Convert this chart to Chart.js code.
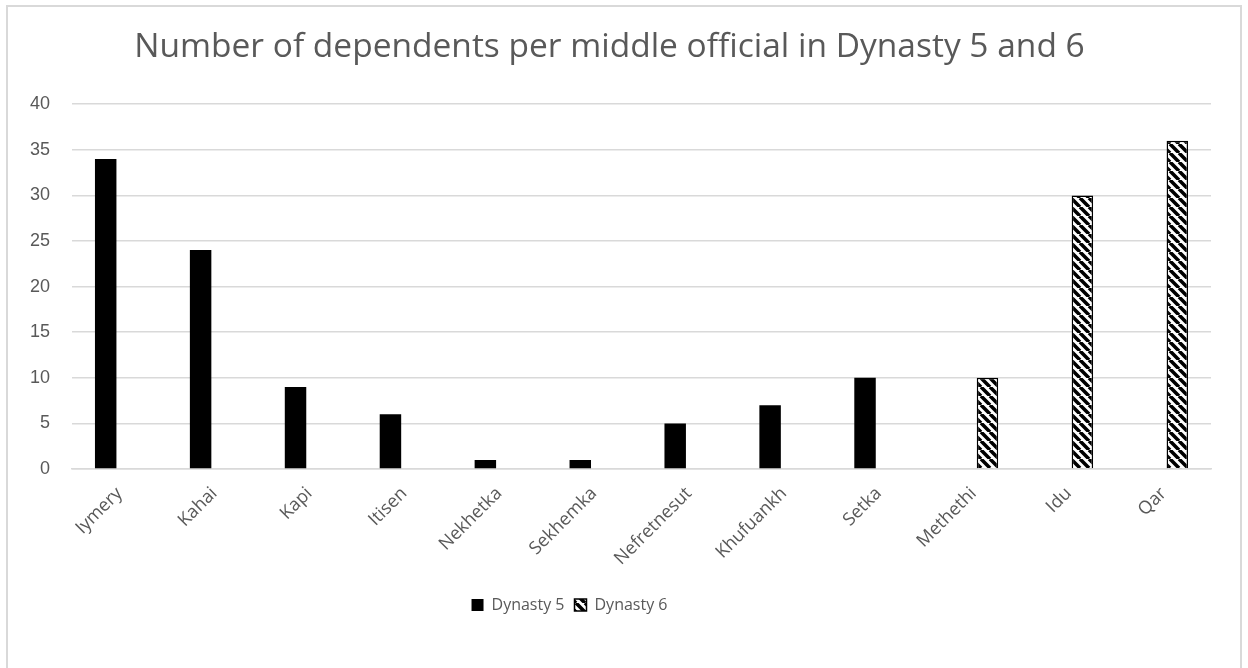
<!DOCTYPE html>
<html>
<head>
<meta charset="utf-8">
<script src="https://cdn.jsdelivr.net/npm/chart.js@4.4.1/dist/chart.umd.min.js"></script>
<style>
  body { margin: 0; background: #fff; }
  #wrap { position: relative; width: 1248px; height: 668px; overflow: hidden; }
  #frame {
    position: absolute; left: 6px; top: 5px; width: 1232px; height: 700px;
    border: 2px solid #d9d9d9; pointer-events: none;
  }
</style>
</head>
<body>
<div id="wrap">
  <canvas id="dependentsChart" width="1248" height="668"></canvas>
  <div id="frame"></div>
</div>
<script>
  const officials = ["Iymery", "Kahai", "Kapi", "Itisen", "Nekhetka", "Sekhemka",
    "Nefretnesut", "Khufuankh", "Setka", "Methethi", "Idu", "Qar"];
  const dynasty5 = [34, 24, 9, 6, 1, 1, 5, 7, 10, null, null, null];
  const dynasty6 = [null, null, null, null, null, null, null, null, null, 10, 30, 36];
  const yTicks = [0, 5, 10, 15, 20, 25, 30, 35, 40];

  const grey = "#595959";

  // diagonal hatch fill for the dynasty 6 bars
  function hatchPattern() {
    const s = 9;
    const c = document.createElement("canvas");
    c.width = s; c.height = s;
    const g = c.getContext("2d");
    g.fillStyle = "#fff";
    g.fillRect(0, 0, s, s);
    g.strokeStyle = "#000";
    g.lineWidth = 3.6;
    g.beginPath();
    for (const k of [-s, 0, s]) {
      g.moveTo(k, 0);
      g.lineTo(k + s, s);
    }
    g.stroke();
    return g.createPattern(c, "repeat");
  }

  // nudge the legend a little left of centre
  const legendShift = {
    id: "legendShift",
    afterLayout(chart) {
      chart.legend.left -= 40;
      chart.legend.right -= 40;
    }
  };

  const ctx = document.getElementById("dependentsChart").getContext("2d");
  new Chart(ctx, {
    type: "bar",
    data: {
      labels: officials,
      datasets: [
        {
          label: "Dynasty 5",
          data: dynasty5,
          backgroundColor: "#000",
          borderWidth: 0,
        },
        {
          label: "Dynasty 6",
          data: dynasty6,
          backgroundColor: hatchPattern(),
          borderColor: "#000",
          borderWidth: 1.5,
        },
      ],
    },
    options: {
      responsive: false,
      animation: false,
      categoryPercentage: 0.58,
      barPercentage: 0.78,
      layout: { padding: { left: 8, right: 37, top: 0, bottom: 45 } },
      plugins: {
        title: {
          display: true,
          text: "Number of dependents per middle official in Dynasty 5 and 6",
          color: grey,
          font: { family: "'Open Sans', sans-serif", size: 33.5, weight: "normal" },
          padding: { top: 27, bottom: 37 },
        },
        legend: {
          position: "bottom",
          labels: {
            color: grey,
            font: { family: "'Open Sans', sans-serif", size: 16 },
            boxWidth: 12,
            boxHeight: 12,
            padding: 10,
          },
        },
        tooltip: { enabled: false },
      },
      scales: {
        x: {
          afterFit(scale) { scale.height = 118; },
          grid: { display: false },
          border: { color: "#d9d9d9", width: 1.5 },
          ticks: {
            color: grey,
            font: { family: "'Open Sans', sans-serif", size: 18 },
            minRotation: 45,
            maxRotation: 45,
            autoSkip: false,
            padding: 6,
          },
        },
        y: {
          min: 0,
          max: 40,
          afterBuildTicks(scale) {
            scale.ticks = yTicks.map(v => ({ value: v }));
          },
          afterFit(scale) { scale.width = 64; },
          grid: { color: "#d9d9d9", lineWidth: 1.5, drawTicks: false },
          border: { display: false },
          ticks: {
            color: grey,
            font: { family: "'Liberation Sans', Arial, sans-serif", size: 18 },
            padding: 22,
          },
        },
      },
    },
    plugins: [legendShift],
  });
</script>
</body>
</html>
